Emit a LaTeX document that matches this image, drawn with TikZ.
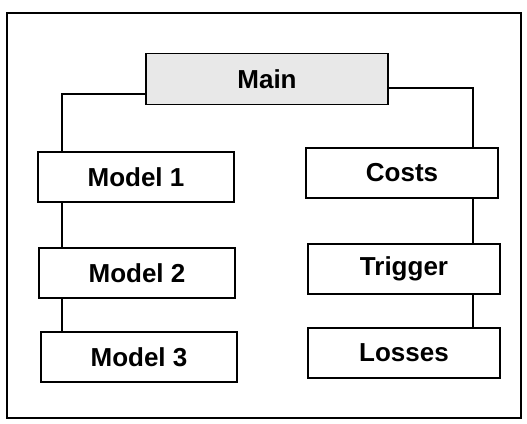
\documentclass[tikz,border=0pt]{standalone}
\usepackage{fontspec}
\setmainfont{Liberation Sans}
\begin{document}
\begin{tikzpicture}[x=1pt,y=-1pt,
  box/.style={draw=black,line width=1.3pt,fill=white,minimum width=196pt,minimum height=50pt,inner sep=0pt,font=\fontsize{26}{30}\selectfont\bfseries},
  mainbox/.style={box,fill=gray!18,minimum width=242pt,minimum height=51pt},
  link/.style={line width=1.3pt}]
\useasboundingbox (0,0) rectangle (527,423);
\draw[line width=1.3pt] (7,13) -- (521,13) -- (521,418) -- (7,418) -- cycle;
\node[mainbox] (main) at (267,79) {Main};
\node[box] (m1) at (136,177) {Model 1};
\node[box] (m2) at (137,273) {Model 2};
\node[box] (m3) at (139,357) {Model 3};
\node[box,minimum width=192pt] (c) at (402,173) {Costs};
\node[box,minimum width=192pt] (t) at (404,269) {Trigger};
\node[box,minimum width=192pt] (l) at (404,353) {Losses};
\coordinate (lc) at (62,0);
\coordinate (rc) at (473,0);
\draw[link] (main.west |- 0,94) -- (lc |- 0,94) -- (lc |- m1.north);
\draw[link] (main.east |- 0,88) -- (rc |- 0,88) -- (rc |- c.north);
\draw[link] (lc |- m1.south) -- (lc |- m2.north);
\draw[link] (lc |- m2.south) -- (lc |- m3.north);
\draw[link] (rc |- c.south) -- (rc |- t.north);
\draw[link] (rc |- t.south) -- (rc |- l.north);
\end{tikzpicture}
\end{document}
